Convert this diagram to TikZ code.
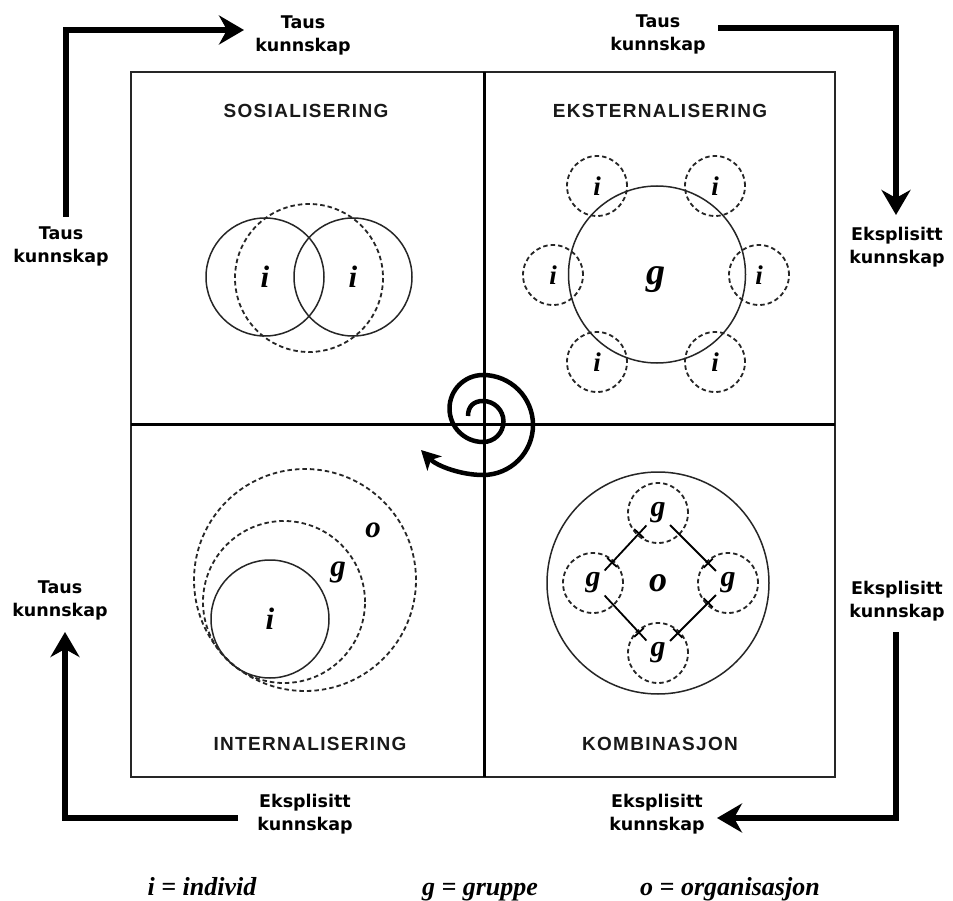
\documentclass[tikz,border=0pt]{standalone}
\usepackage{fontspec}
\setmainfont{Liberation Serif}
\newfontfamily\quadfont{Liberation Sans}[LetterSpace=7]
\newfontfamily\flowfont{DejaVu Sans}
\usetikzlibrary{arrows.meta,calc}

% short perpendicular stroke on a link, where it meets the circle of #1
\newcommand{\linktick}[2]{%
  \draw[tickmark] ($(#1)!28pt!(#2)!6.5pt!90:(#2)$) -- ($(#1)!28pt!(#2)!6.5pt!-90:(#2)$);}
% link between two group circles, reaching into both
\newcommand{\grouplink}[2]{%
  \draw[link] ($(#1)!17pt!(#2)$) -- ($(#2)!17pt!(#1)$);}

\begin{document}
\begin{tikzpicture}[x=1pt,y=-1pt,
  frame/.style={draw=black!85, line width=2.6pt},
  axisline/.style={draw=black, line width=3pt},
  flow/.style={draw=black, line width=5.2pt, line join=miter,
    -{Stealth[length=25pt,width=29pt,inset=8pt]}},
  flowtext/.style={font=\flowfont\bfseries\fontsize{17.5}{23}\selectfont,
    text=black, align=center, inner sep=0pt},
  quadtitle/.style={font=\quadfont\bfseries\fontsize{19}{21}\selectfont,
    text=black!90, inner sep=0pt},
  solidring/.style={circle, draw=black!85, line width=1.5pt, inner sep=0pt},
  dashring/.style={circle, draw=black!85, line width=1.8pt,
    dash pattern=on 4.5pt off 3pt, inner sep=0pt},
  dashcurve/.style={draw=black!85, line width=1.8pt, dash pattern=on 4.5pt off 3pt},
  letter/.style={font=\bfseries\itshape\fontsize{#1}{#1}\selectfont},
  legendtext/.style={font=\bfseries\itshape\fontsize{26}{28}\selectfont,
    inner sep=0pt, anchor=base},
  link/.style={draw=black, line width=1.8pt},
  tickmark/.style={draw=black, line width=1.8pt},
  spiral/.style={draw=black, line width=4.5pt,
    -{Stealth[length=19pt,width=20pt,inset=5pt]}}
]
\useasboundingbox[fill=white] (0,0) rectangle (953,901);

% four-field frame
\draw[frame] (131,72) rectangle (835,777);
\draw[axisline] (484,72) -- (484,777);
\draw[axisline] (131,424) -- (835,424);

% quadrant titles
\node[quadtitle] (tSos) at (306,111) {SOSIALISERING};
\node[quadtitle] (tEks) at (660,111) {EKSTERNALISERING};
\node[quadtitle] (tInt) at (310,744) {INTERNALISERING};
\node[quadtitle] (tKom) at (660,744) {KOMBINASJON};

% Sosialisering: two individuals sharing experience
\node[solidring, minimum size=118pt, letter=31] (si1) at (265,277) {i};
\node[solidring, minimum size=118pt, letter=31] (si2) at (353,277) {i};
\draw[dashcurve] (309,278) circle (74);

% Eksternalisering: individuals around a group
\node[solidring, minimum size=177pt] (eg) at (657,274.5) {};
\node[letter=38, inner sep=0pt] (egLbl) at (656,280) {g};
\node[dashring, minimum size=60pt, letter=27] (ei1) at (597,186) {i};
\node[dashring, minimum size=60pt, letter=27] (ei2) at (715,186) {i};
\node[dashring, minimum size=60pt, letter=27] (ei3) at (553,275) {i};
\node[dashring, minimum size=60pt, letter=27] (ei4) at (759,275) {i};
\node[dashring, minimum size=60pt, letter=27] (ei5) at (597,362) {i};
\node[dashring, minimum size=60pt, letter=27] (ei6) at (715,362) {i};

% Internalisering: nested individual, group, organisation
\node[dashring, minimum size=222pt] (io) at (305,580) {};
\node[dashring, minimum size=162pt] (ig) at (284,602) {};
\node[solidring, minimum size=118pt, letter=31] (ii) at (270,619) {i};
\node[letter=31, inner sep=0pt] (ioLbl) at (373,530) {o};
\node[letter=31, inner sep=0pt] (igLbl) at (338,572) {g};

% Kombinasjon: groups linked inside the organisation
\node[solidring, minimum size=222pt, letter=36] (ko) at (658,583) {o};
\node[dashring, minimum size=60pt, letter=30] (kgT) at (658,513) {g};
\node[dashring, minimum size=60pt, letter=30] (kgL) at (593,583) {g};
\node[dashring, minimum size=60pt, letter=30] (kgR) at (728,583) {g};
\node[dashring, minimum size=60pt, letter=30] (kgB) at (658,653) {g};
\grouplink{kgL}{kgT} \linktick{kgL}{kgT} \linktick{kgT}{kgL}
\grouplink{kgT}{kgR} \linktick{kgR}{kgT}
\grouplink{kgL}{kgB} \linktick{kgB}{kgL}
\grouplink{kgB}{kgR} \linktick{kgB}{kgR} \linktick{kgR}{kgB}

% knowledge spiral, built from growing half circles
\draw[spiral] (468,416) .. controls (468,406) and (474,401) .. (483,401)
  arc[start angle=-90, end angle=90, radius=20.5]
  arc[start angle=90, end angle=270, radius=33.5]
  arc[start angle=-90, end angle=90, radius=50]
  .. controls (461,475) and (437,466) .. (421,450);

% knowledge-type labels
\node[flowtext] (kTL) at (303,35) {Taus\\kunnskap};
\node[flowtext] (kL)  at (61,246) {Taus\\kunnskap};
\node[flowtext] (kTR) at (658,34) {Taus\\kunnskap};
\node[flowtext] (kR)  at (897,247) {Eksplisitt\\kunnskap};
\node[flowtext] (kLB) at (60,600) {Taus\\kunnskap};
\node[flowtext] (kRB) at (897,601) {Eksplisitt\\kunnskap};
\node[flowtext] (kBL) at (305,814) {Eksplisitt\\kunnskap};
\node[flowtext] (kBR) at (657,814) {Eksplisitt\\kunnskap};

% conversion arrows
\coordinate (aTLs) at (66,217);  \coordinate (aTLe) at (244,30);
\coordinate (aTRs) at (718,28);  \coordinate (aTRe) at (896,215);
\coordinate (aBRs) at (896,632); \coordinate (aBRe) at (717,818);
\coordinate (aBLs) at (238,818); \coordinate (aBLe) at (65,632);
\draw[flow] (aTLs) |- (aTLe);
\draw[flow] (aTRs) -| (aTRe);
\draw[flow] (aBRs) |- (aBRe);
\draw[flow] (aBLs) -| (aBLe);

% legend
\node[legendtext] (lgI) at (202,895) {i = individ};
\node[legendtext] (lgG) at (480,895) {g = gruppe};
\node[legendtext] (lgO) at (730,895) {o = organisasjon};
\end{tikzpicture}
\end{document}
